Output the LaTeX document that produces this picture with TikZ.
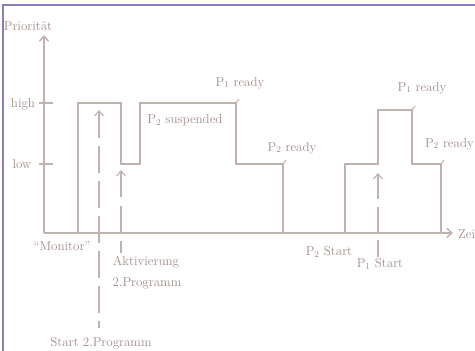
\documentclass[tikz,border=0pt]{standalone}
\usetikzlibrary{arrows.meta}
\definecolor{ink}{RGB}{192,178,174}
\definecolor{txt}{RGB}{160,140,136}
\definecolor{frame}{RGB}{140,124,190}
\tikzset{
  sig/.style={draw=ink, line width=1.5pt, line join=miter},
  axis/.style={draw=ink, line width=1.5pt, -{Straight Barb[length=5pt,width=9pt]}},
  trig/.style={draw=ink, line width=1.2pt, dash pattern=on 27pt off 8pt, {Straight Barb[length=5pt,width=9pt]}-},
  lbl/.style={text=txt, font=\fontsize{13}{15}\selectfont, inner sep=0pt},
  pinl/.style={draw=ink, line width=1pt}
}
\begin{document}
\begin{tikzpicture}[x=1pt,y=-1pt]
\useasboundingbox (0,0) rectangle (475,351);
% frame
\coordinate (fTL) at (3,5);
\coordinate (fTR) at (476,5);
\coordinate (fBL) at (3,352);
\draw[frame, line width=1.6pt] (fBL) -- (fTL) -- (fTR);
% axes
\coordinate (O) at (44,233);
\coordinate (ytop) at (44,35);
\coordinate (xend) at (453,233);
\draw[axis] (O) -- (ytop);
\draw[axis] (O) -- (xend);
\coordinate (th1) at (39,103); \coordinate (th2) at (53,103);
\coordinate (tl1) at (39,164); \coordinate (tl2) at (53,164);
\draw[sig, line width=1.2pt] (th1) -- (th2);
\draw[sig, line width=1.2pt] (tl1) -- (tl2);
\node[lbl] (ylab) at (28,26) {Priorität};
\node[lbl] (high) at (23,104) {high};
\node[lbl] (low) at (22,164) {low};
\node[lbl, anchor=west] (zeit) at (458,234) {Zeit};
% first signal
\coordinate (a0) at (78,233);
\coordinate (a1) at (78,103);
\coordinate (a2) at (121,103);
\coordinate (a3) at (121,164);
\coordinate (a4) at (140,164);
\coordinate (a5) at (140,103);
\coordinate (a6) at (236,103);
\coordinate (a7) at (236,164);
\coordinate (a8) at (283,164);
\coordinate (a9) at (283,233);
\draw[sig] (a0) -- (a1) -- (a2) -- (a3) -- (a4) -- (a5) -- (a6) -- (a7) -- (a8) -- (a9);
% second signal
\coordinate (b0) at (345,233);
\coordinate (b1) at (345,164);
\coordinate (b2) at (378,164);
\coordinate (b3) at (378,110);
\coordinate (b4) at (412,110);
\coordinate (b5) at (412,164);
\coordinate (b6) at (441,164);
\coordinate (b7) at (441,233);
\draw[sig] (b0) -- (b1) -- (b2) -- (b3) -- (b4) -- (b5) -- (b6) -- (b7);
% pins
\coordinate (p1) at (239,99);
\coordinate (p2) at (286,160);
\coordinate (p3) at (415,106);
\coordinate (p4) at (444,160);
\draw[pinl] (a6) -- (p1);
\draw[pinl] (a8) -- (p2);
\draw[pinl] (b4) -- (p3);
\draw[pinl] (b6) -- (p4);
% trigger arrows
\coordinate (t1top) at (99,110);
\coordinate (t1bot) at (99,328);
\coordinate (t2top) at (121,170);
\coordinate (t2bot) at (121,253);
\coordinate (t3top) at (378,173);
\coordinate (t3bot) at (378,257);
\draw[trig] (t1top) -- (t1bot);
\draw[trig, dash pattern=on 26pt off 9pt] (t2top) -- (t2bot);
\draw[trig, dash pattern=on 25pt off 8pt] (t3top) -- (t3bot);
% labels
\node[lbl] (r1) at (240,83) {P$_1$ ready};
\node[lbl] (s2) at (185,120) {P$_2$ suspended};
\node[lbl] (r2) at (292,148) {P$_2$ ready};
\node[lbl] (r1b) at (422,88) {P$_1$ ready};
\node[lbl, anchor=east] (r2b) at (474,144) {P$_2$ ready};
\node[lbl] (st2) at (329,252) {P$_2$ Start};
\node[lbl] (st1) at (380,264) {P$_1$ Start};
\node[lbl] (mon) at (62,246) {``Monitor''};
\node[lbl] (akt) at (146,262) {Aktivierung};
\node[lbl] (prog) at (147,283) {2.Programm};
\node[lbl] (start) at (101,343) {Start 2.Programm};
\end{tikzpicture}
\end{document}
